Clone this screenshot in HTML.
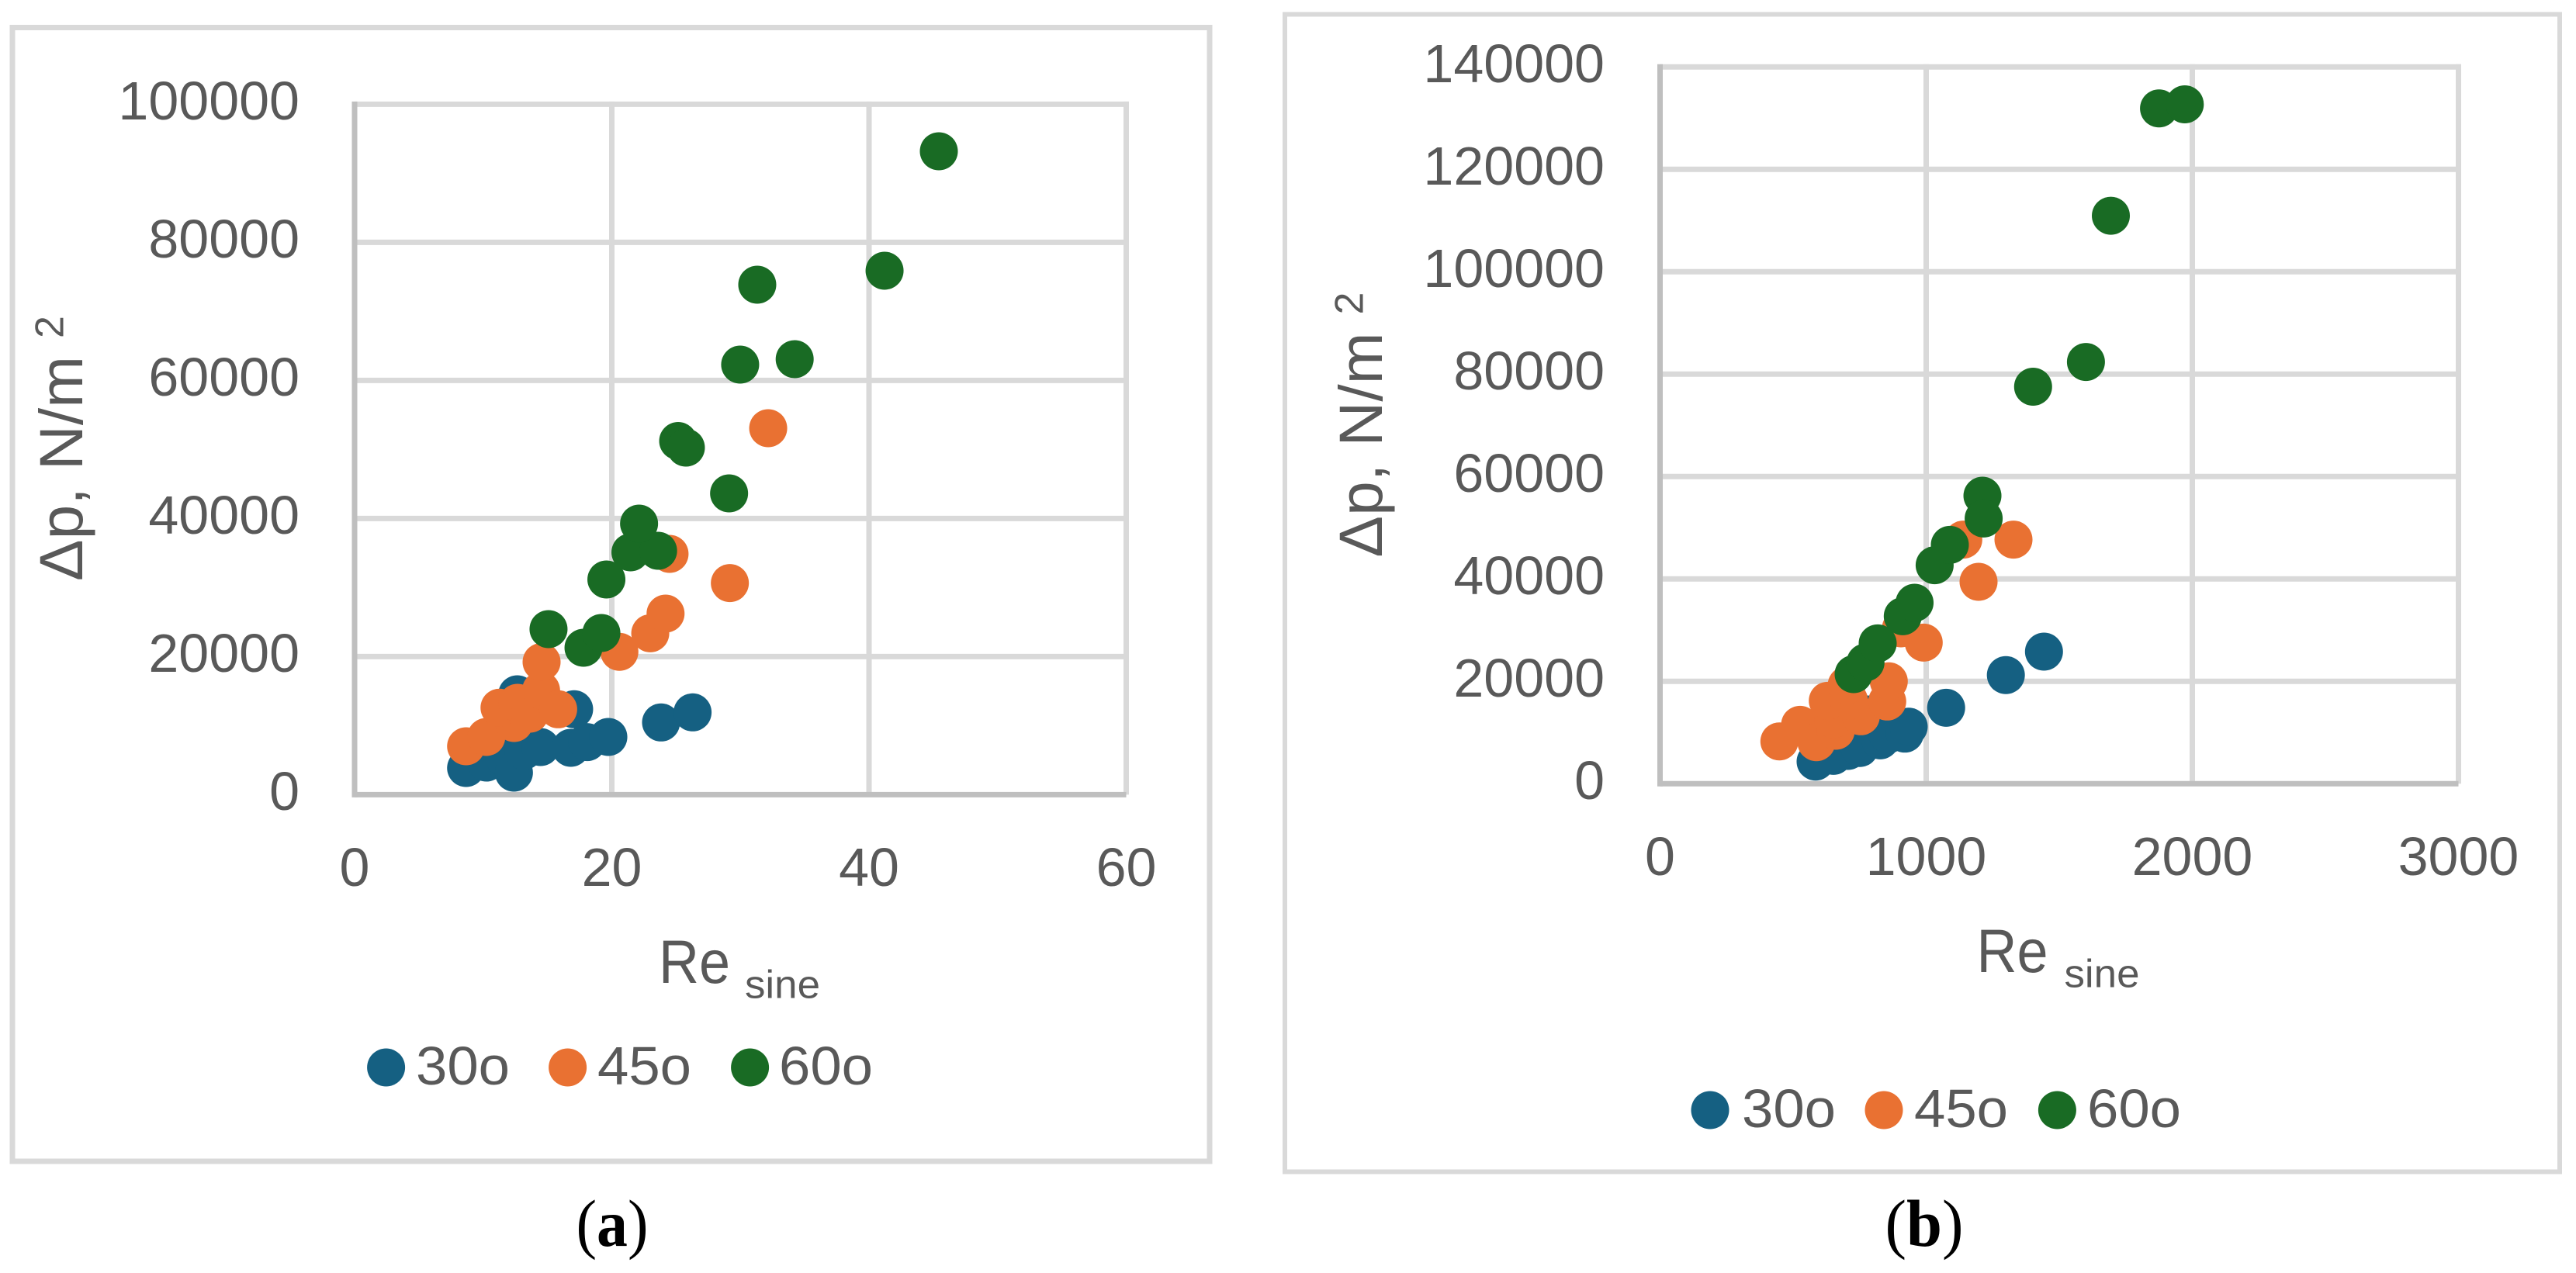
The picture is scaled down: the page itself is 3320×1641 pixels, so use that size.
<!DOCTYPE html>
<html lang="en">
<head>
<meta charset="utf-8">
<title>Pressure drop vs Re sine</title>
<style>
html,body{margin:0;padding:0;background:#fff;}
svg{display:block;}
text{font-family:"Liberation Sans",Arial,sans-serif;fill:#595959;}
.cap{font-family:"Liberation Serif","Times New Roman",serif;fill:#000;}
</style>
</head>
<body>
<svg id="fig" xmlns="http://www.w3.org/2000/svg" width="3320" height="1641" viewBox="0 0 3320 1641">
<rect x="0" y="0" width="3320" height="1641" fill="#ffffff"/>
<rect x="16" y="35.5" width="1543" height="1461.5" fill="none" stroke="#D9D9D9" stroke-width="7"/>
<rect x="1656" y="18.5" width="1643" height="1492" fill="none" stroke="#D9D9D9" stroke-width="6"/>
<g id="chartA"></g>
<g id="chartB"></g>

<text transform="translate(106 749) rotate(-90)" font-size="79" textLength="290" lengthAdjust="spacingAndGlyphs">Δp, N/m</text>
<text transform="translate(81.5 436) rotate(-90)" font-size="52">2</text>
<text x="849" y="1267" font-size="79" textLength="92" lengthAdjust="spacingAndGlyphs">Re</text>
<text x="960" y="1286.5" font-size="51" textLength="97" lengthAdjust="spacingAndGlyphs">sine</text>

<text transform="translate(1781 718.5) rotate(-90)" font-size="79" textLength="290" lengthAdjust="spacingAndGlyphs">Δp, N/m</text>
<text transform="translate(1756.5 405.5) rotate(-90)" font-size="52">2</text>
<text x="2547.5" y="1253" font-size="79" textLength="92" lengthAdjust="spacingAndGlyphs">Re</text>
<text x="2660.5" y="1272.5" font-size="51" textLength="97" lengthAdjust="spacingAndGlyphs">sine</text>

<circle cx="497.6" cy="1376" r="24.5" fill="#156082"/>
<text x="536" y="1398" font-size="70" textLength="121" lengthAdjust="spacingAndGlyphs">30o</text>
<circle cx="731.6" cy="1376" r="24.5" fill="#E97132"/>
<text x="770" y="1398" font-size="70" textLength="121" lengthAdjust="spacingAndGlyphs">45o</text>
<circle cx="966.6" cy="1376" r="24.5" fill="#196B24"/>
<text x="1004" y="1398" font-size="70" textLength="121" lengthAdjust="spacingAndGlyphs">60o</text>

<circle cx="2204" cy="1431" r="24.5" fill="#156082"/>
<text x="2245" y="1453" font-size="70" textLength="121" lengthAdjust="spacingAndGlyphs">30o</text>
<circle cx="2428" cy="1431" r="24.5" fill="#E97132"/>
<text x="2467" y="1453" font-size="70" textLength="121" lengthAdjust="spacingAndGlyphs">45o</text>
<circle cx="2651.4" cy="1431" r="24.5" fill="#196B24"/>
<text x="2690" y="1453" font-size="70" textLength="121" lengthAdjust="spacingAndGlyphs">60o</text>

<text class="cap" x="742.5" y="1606" font-size="86" textLength="93" lengthAdjust="spacingAndGlyphs">(<tspan font-weight="bold">a</tspan>)</text>
<text class="cap" x="2429.5" y="1606" font-size="86" textLength="101" lengthAdjust="spacingAndGlyphs">(<tspan font-weight="bold">b</tspan>)</text>
</svg>
<script>
var xTicksA = [0, 20, 40, 60];
var yTicksA = [0, 20000, 40000, 60000, 80000, 100000];
var xTicksB = [0, 1000, 2000, 3000];
var yTicksB = [0, 20000, 40000, 60000, 80000, 100000, 120000, 140000];

var a30x = [8.67, 10.24, 11.65, 12.39, 13.15, 14.46, 16.81, 18.08, 19.73, 23.83, 26.28, 12.65, 14.53, 17.07];
var a30y = [3865, 4650, 5325, 3190, 6340, 6900, 6790, 7610, 8360, 10460, 11920, 14540, 14540, 12370];
var a45x = [8.67, 10.24, 12.40, 11.27, 12.67, 13.63, 14.50, 14.54, 15.83, 20.59, 22.99, 24.18, 29.18, 24.49, 32.16];
var a45y = [7010, 8360, 10380, 12600, 13300, 11730, 15100, 19220, 12370, 20690, 23380, 26220, 30650, 34880, 53080];
var a60x = [15.08, 17.80, 19.19, 19.58, 21.45, 23.60, 22.12, 29.12, 25.16, 25.76, 29.98, 34.22, 31.31, 41.21, 45.43];
var a60y = [23980, 21280, 23420, 31170, 35100, 35330, 39260, 43640, 51220, 50270, 62290, 63080, 73870, 75890, 93190];

var b30x = [584.5, 651.6, 706, 750, 827.4, 855.7, 919.8, 934.4, 779, 1075, 1299.4, 1442.6];
var b30y = [4330, 5450, 6410, 6970, 8480, 9590, 9790, 11150, 13530, 14830, 21220, 25800];
var b45x = [448.4, 526.2, 587.5, 660.3, 651.6, 630.3, 754.5, 709.9, 701.2, 853.6, 859.5, 905.2, 990.7, 1196.8, 1139.4, 1328];
var b45y = [8270, 11510, 8120, 10350, 12620, 16210, 13180, 16260, 19240, 16060, 20000, 30350, 27570, 39440, 47680, 47680];
var b60x = [727.4, 772, 817.8, 912, 956.3, 1031.8, 1088.9, 1211.4, 1216, 1401.7, 1600.3, 1693.9, 1874.9, 1971.7];
var b60y = [21410, 23680, 27420, 32720, 35340, 42680, 46650, 56250, 51800, 77550, 82380, 110940, 131900, 132700];

var NS = 'http://www.w3.org/2000/svg';

function makeLine(parent, x1, y1, x2, y2, color, name) {
  var l = document.createElementNS(NS, 'line');
  l.setAttribute('x1', x1);
  l.setAttribute('y1', y1);
  l.setAttribute('x2', x2);
  l.setAttribute('y2', y2);
  l.setAttribute('stroke', color);
  l.setAttribute('stroke-width', 7);
  
  
  parent.appendChild(l);
}

function makeLabel(parent, x, y, str, anchor, name) {
  var t = document.createElementNS(NS, 'text');
  t.setAttribute('x', x);
  t.setAttribute('y', y);
  t.setAttribute('font-size', 70);
  t.setAttribute('text-anchor', anchor);
  t.textContent = str;
  
  
  parent.appendChild(t);
}

function makeSeries(parent, xs, ys, sx, sy, color, name) {
  for (var i = 0; i < xs.length; i++) {
    var c = document.createElementNS(NS, 'circle');
    c.setAttribute('cx', sx(xs[i]));
    c.setAttribute('cy', sy(ys[i]));
    c.setAttribute('r', 24.5);
    c.setAttribute('fill', color);
    
    
    parent.appendChild(c);
  }
}

function linear(d0, d1, r0, r1) {
  return function (v) { return r0 + (v - d0) / (d1 - d0) * (r1 - r0); };
}

function drawChart(g, prefix, xTicks, yTicks, left, right, top, bottom, labelRight, xLabelY, series) {
  var sx = linear(xTicks[0], xTicks[xTicks.length - 1], left, right);
  var sy = linear(yTicks[0], yTicks[yTicks.length - 1], bottom, top);
  yTicks.forEach(function (v) {
    if (v !== 0) makeLine(g, left, sy(v), right + 3.5, sy(v), '#D9D9D9', prefix + '-h-gridline');
  });
  xTicks.forEach(function (v) {
    if (v !== 0) makeLine(g, sx(v), top - 3.5, sx(v), bottom, '#D9D9D9', prefix + '-v-gridline');
  });
  makeLine(g, left, top - 3.5, left, bottom + 3.5, '#BFBFBF', prefix + '-y-axis-line');
  makeLine(g, left, bottom, right, bottom, '#BFBFBF', prefix + '-x-axis-line');
  yTicks.forEach(function (v) {
    makeLabel(g, labelRight, sy(v) + 19.5, String(v), 'end', prefix + '-y-tick-label');
  });
  xTicks.forEach(function (v) {
    makeLabel(g, sx(v), xLabelY, String(v), 'middle', prefix + '-x-tick-label');
  });
  series.forEach(function (s) {
    makeSeries(g, s[0], s[1], sx, sy, s[2], prefix + '-' + s[3] + '-point');
  });
}

drawChart(document.getElementById('chartA'), 'chart-a', xTicksA, yTicksA, 457, 1451.5, 134.4, 1024.4, 386, 1142, [
  [a30x, a30y, '#156082', 'series-30'],
  [a45x, a45y, '#E97132', 'series-45'],
  [a60x, a60y, '#196B24', 'series-60']
]);
drawChart(document.getElementById('chartB'), 'chart-b', xTicksB, yTicksB, 2139.5, 3168.5, 86.3, 1010.3, 2068, 1128, [
  [b30x, b30y, '#156082', 'series-30'],
  [b45x, b45y, '#E97132', 'series-45'],
  [b60x, b60y, '#196B24', 'series-60']
]);
</script>
</body>
</html>
